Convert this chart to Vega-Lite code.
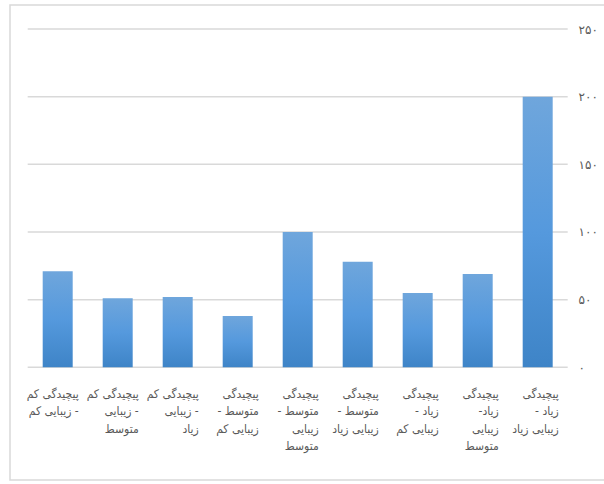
{
  "$schema": "https://vega.github.io/schema/vega-lite/v6.json",
  "width": 596,
  "height": 475,
  "autosize": {"type": "none"},
  "padding": {"left": 10, "top": 5, "right": -2, "bottom": 4},
  "background": "#ffffff",
  "config": {
    "view": {"stroke": "#d9d9d9", "strokeWidth": 1.5},
    "font": "DejaVu Sans"
  },
  "layer": [
    {
      "data": {"values": [{"tick": 0}, {"tick": 50}, {"tick": 100}, {"tick": 150}, {"tick": 200}, {"tick": 250}]},
      "mark": {"type": "rule", "stroke": "#d9d9d9", "strokeWidth": 1.5},
      "encoding": {
        "y": {
          "field": "tick",
          "type": "quantitative",
          "scale": {"domain": [-83.28, 267.74], "nice": false, "zero": false},
          "axis": {
            "orient": "right",
            "offset": -30,
            "title": null,
            "domain": false,
            "ticks": false,
            "grid": false,
            "values": [0, 50, 100, 150, 200, 250],
            "labelPadding": 2,
            "labelAlign": "left",
            "labelFont": "DejaVu Sans",
            "labelFontSize": 12,
            "labelColor": "#595959",
            "labelExpr": "replace(replace(replace(replace(replace(datum.label, regexp('0', 'g'), '۰'), regexp('1', 'g'), '۱'), regexp('2', 'g'), '۲'), regexp('5', 'g'), '۵'), regexp(',', 'g'), '')"
          }
        },
        "x": {"datum": "پیچیدگی کم\nزیبایی کم -", "type": "nominal", "bandPosition": 0},
        "x2": {"datum": "پیچیدگی\n- زیاد\nزیبایی زیاد", "bandPosition": 1}
      }
    },
    {
      "data": {
        "values": [
          {"label": "پیچیدگی کم\nزیبایی کم -", "count": 71},
          {"label": "پیچیدگی کم\nزیبایی -\nمتوسط", "count": 51},
          {"label": "پیچیدگی کم\nزیبایی -\nزیاد", "count": 52},
          {"label": "پیچیدگی\n- متوسط\nزیبایی کم", "count": 38},
          {"label": "پیچیدگی\n- متوسط\nزیبایی\nمتوسط", "count": 100},
          {"label": "پیچیدگی\n- متوسط\nزیبایی زیاد", "count": 78},
          {"label": "پیچیدگی\n- زیاد\nزیبایی کم", "count": 55},
          {"label": "پیچیدگی\n-زیاد\nزیبایی\nمتوسط", "count": 69},
          {"label": "پیچیدگی\n- زیاد\nزیبایی زیاد", "count": 200}
        ]
      },
      "mark": {
        "type": "bar",
        "width": {"band": 0.5},
        "fill": {
          "gradient": "linear",
          "x1": 0, "y1": 0, "x2": 0, "y2": 1,
          "stops": [
            {"offset": 0, "color": "#6fa6dc"},
            {"offset": 0.5, "color": "#5599dd"},
            {"offset": 1, "color": "#3e84c7"}
          ]
        }
      },
      "encoding": {
        "x": {
          "field": "label",
          "type": "nominal",
          "sort": null,
          "scale": {
            "domain": [
              "پیچیدگی کم\nزیبایی کم -",
              "پیچیدگی کم\nزیبایی -\nمتوسط",
              "پیچیدگی کم\nزیبایی -\nزیاد",
              "پیچیدگی\n- متوسط\nزیبایی کم",
              "پیچیدگی\n- متوسط\nزیبایی\nمتوسط",
              "پیچیدگی\n- متوسط\nزیبایی زیاد",
              "پیچیدگی\n- زیاد\nزیبایی کم",
              "پیچیدگی\n-زیاد\nزیبایی\nمتوسط",
              "پیچیدگی\n- زیاد\nزیبایی زیاد"
            ],
            "paddingInner": 0,
            "paddingOuter": 0.4667,
            "align": 0.316
          },
          "axis": {
            "orient": "bottom",
            "offset": -113,
            "bandPosition": 0.5,
            "title": null,
            "domain": false,
            "ticks": false,
            "grid": false,
            "labelAngle": 0,
            "labelPadding": 26,
            "labelOffset": 21,
            "labelExpr": "split(datum.value, '\\n')",
            "labelLineHeight": 17.5,
            "labelFont": "DejaVu Sans Condensed",
            "labelFontSize": 12,
            "labelColor": "#595959",
            "labelLimit": 0,
            "labelOverlap": false,
            "labelBound": false
          }
        },
        "y": {"field": "count", "type": "quantitative"},
        "y2": {"datum": 0}
      }
    }
  ]
}
